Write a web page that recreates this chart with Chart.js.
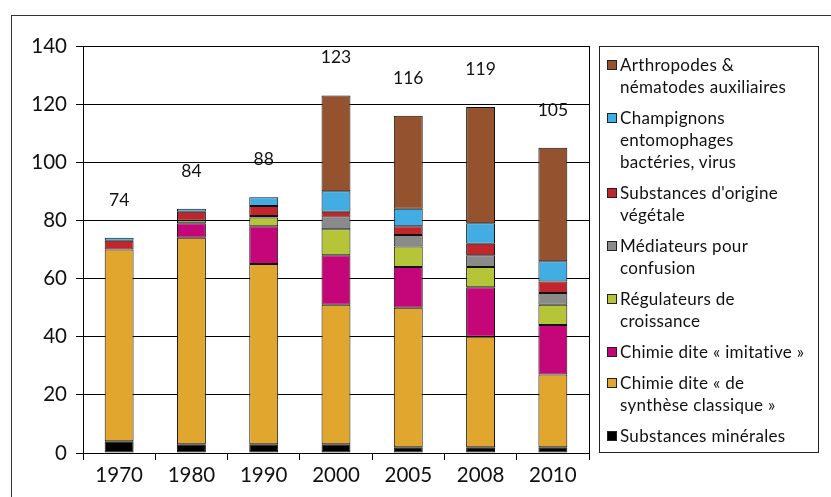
<!DOCTYPE html>
<html lang="fr">
<head>
<meta charset="utf-8">
<script src="https://cdn.jsdelivr.net/npm/chart.js@4/dist/chart.umd.min.js"></script>
<style>
  html, body { margin: 0; padding: 0; background: #fff; }
  #wrap { position: relative; width: 831px; height: 497px; overflow: hidden; font-family: Lato, sans-serif; }
  #frame { position: absolute; left: 11px; top: 15px; width: 900px; height: 600px;
           border-top: 1.5px solid #333; border-left: 1.5px solid #333; }
  #chart { position: absolute; left: 0; top: 0; }
  #legend { position: absolute; left: 599px; top: 46px; width: 220px; height: 407px;
            border: 1px solid #222; box-sizing: border-box; padding: 7px 0 0 7px; }
  .item { display: flex; align-items: flex-start; margin-bottom: 9px; }
  .sw { width: 8px; height: 8px; border: 1px solid #222; margin-top: 6px; margin-right: 3px; flex: none; }
  .txt { font-size: 17px; letter-spacing: 0.3px; line-height: 22px; color: #111; white-space: nowrap; }
</style>
</head>
<body>
<div id="wrap">
  <div id="frame"></div>
  <canvas id="chart" width="831" height="497"></canvas>
  <div id="legend"></div>
</div>
<script>
// Years on the category axis
const years = ['1970', '1980', '1990', '2000', '2005', '2008', '2010'];

// Number of active substances / organisms per family (stacked, bottom to top)
const mineral     = [4, 3, 3, 3, 2, 2, 2];
const synthese    = [66, 71, 62, 48, 48, 38, 25];
const imitative   = [0, 5, 13, 17, 14, 17, 17];
const regulateurs = [0, 1, 3, 9, 7, 7, 7];
const mediateurs  = [0, 0, 0.5, 4, 4, 4, 4];
const vegetale    = [3, 3, 3.5, 2, 3, 4, 4];
const champignons = [1, 1, 3, 7, 6, 7, 7];
const arthropodes = [0, 0, 0, 33, 32, 40, 39];

// Y axis tick values
const yTicks = [0, 20, 40, 60, 80, 100, 120, 140];

const series = [
  { name: 'Substances minérales', data: mineral, color: '#000000' },
  { name: 'Chimie dite « de\nsynthèse classique »', data: synthese, color: '#E0A62E' },
  { name: 'Chimie dite « imitative »', data: imitative, color: '#C40678' },
  { name: 'Régulateurs de\ncroissance', data: regulateurs, color: '#B6C437' },
  { name: 'Médiateurs pour\nconfusion', data: mediateurs, color: '#8A8A8A' },
  { name: "Substances d'origine\nvégétale", data: vegetale, color: '#C2252C' },
  { name: 'Champignons\nentomophages\nbactéries, virus', data: champignons, color: '#42ADE2' },
  { name: 'Arthropodes &\nnématodes auxiliaires', data: arthropodes, color: '#94532E' }
];

const FONT = 'Lato, sans-serif';

// Totals written above each stack
const totalsPlugin = {
  id: 'totals',
  afterDatasetsDraw(chart) {
    const { ctx, scales: { x, y } } = chart;
    ctx.save();
    ctx.font = '17.5px ' + FONT;
    ctx.fillStyle = '#111';
    ctx.textAlign = 'center';
    ctx.textBaseline = 'middle';
    years.forEach((yr, i) => {
      const total = series.reduce((s, d) => s + d.data[i], 0);
      ctx.fillText(String(Math.round(total)), x.getPixelForValue(i), y.getPixelForValue(total + 13));
    });
    ctx.restore();
  }
};

// Right-hand border of the plot area
const plotBorder = {
  id: 'plotBorder',
  afterDraw(chart) {
    const { ctx, chartArea: a } = chart;
    ctx.save();
    ctx.strokeStyle = '#000';
    ctx.lineWidth = 1;
    ctx.beginPath();
    ctx.moveTo(Math.round(a.right) + 0.5, a.top);
    ctx.lineTo(Math.round(a.right) + 0.5, a.bottom);
    ctx.stroke();
    ctx.restore();
  }
};

const chart = new Chart(document.getElementById('chart'), {
  type: 'bar',
  data: {
    labels: years,
    datasets: series.map(s => ({
      label: s.name,
      data: s.data.map(v => (v === 0 ? null : v)),
      backgroundColor: s.color,
      borderColor: '#111',
      borderWidth: 1,
      borderSkipped: false,
      categoryPercentage: 1,
      barPercentage: 0.4
    }))
  },
  options: {
    responsive: false,
    animation: false,
    layout: { padding: { top: 46, right: 242, left: 0, bottom: 0 } },
    plugins: { legend: { display: false }, tooltip: { enabled: false } },
    scales: {
      x: {
        stacked: true,
        offset: true,
        grid: { offset: true, drawOnChartArea: false, tickLength: 7, color: '#000', lineWidth: 1 },
        border: { color: '#000', width: 1 },
        ticks: { font: { family: FONT, size: 20.5 }, color: '#111', padding: 3, maxRotation: 0 },
        afterFit(s) { s.height = 44; }
      },
      y: {
        stacked: true,
        min: 0,
        max: 140,
        afterBuildTicks(s) { s.ticks = yTicks.map(v => ({ value: v })); },
        grid: { color: '#000', lineWidth: 1, tickLength: 7 },
        border: { color: '#000', width: 1 },
        ticks: { font: { family: FONT, size: 20.5 }, color: '#111', padding: 9 },
        afterFit(s) { s.width = 83; }
      }
    }
  },
  plugins: [totalsPlugin, plotBorder]
});

// Legend: top of the stack first
const legend = document.getElementById('legend');
chart.data.datasets.slice().reverse().forEach(ds => {
  const item = document.createElement('div');
  item.className = 'item';
  const sw = document.createElement('div');
  sw.className = 'sw';
  sw.style.background = ds.backgroundColor;
  const txt = document.createElement('div');
  txt.className = 'txt';
  txt.innerHTML = ds.label.split('\n').map(l => l.replace(/&/g, '&amp;')).join('<br>');
  item.appendChild(sw);
  item.appendChild(txt);
  legend.appendChild(item);
});
</script>
</body>
</html>
